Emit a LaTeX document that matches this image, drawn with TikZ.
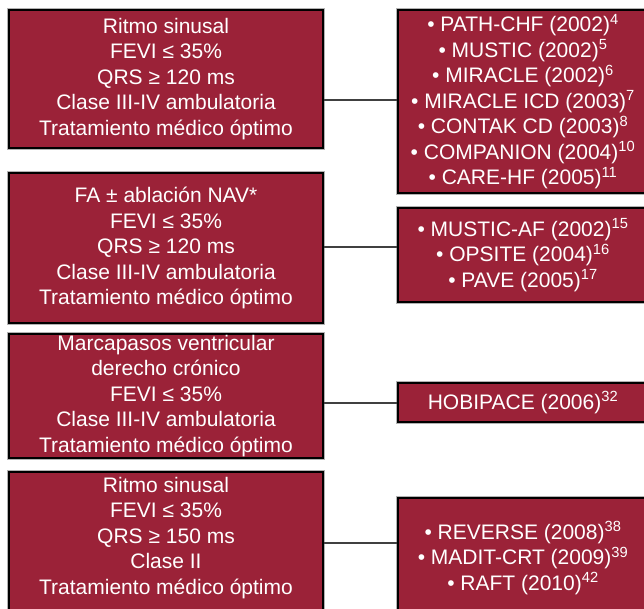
\documentclass[tikz,border=0pt]{standalone}
\usepackage{fontspec}
\setmainfont{Liberation Sans}
\definecolor{boxred}{RGB}{155,34,56}
\begin{document}
\begin{tikzpicture}[x=1pt,y=-1pt,
  box/.style={draw=black, line width=2pt, fill=boxred, text=white, align=center,
    inner sep=0pt, font=\fontsize{21}{25.5}\selectfont,
    preaction={draw=black!30, line width=3.4pt}},
  lbox/.style={box, minimum width=314pt},
  rbox/.style={box, minimum width=250pt},
  txt/.style={text=white, align=center, inner sep=0pt, font=\fontsize{21}{25.5}\selectfont},
  conn/.style={draw=black!75, line width=2pt}]
\useasboundingbox (0,0) rectangle (644,608);
\clip (0,0) rectangle (644,608);

% left boxes
\node[lbox, minimum height=138pt] (l1) at (166,79)
  {Ritmo sinusal\\FEVI ≤ 35\%\\QRS ≥ 120 ms\\Clase III-IV ambulatoria\\Tratamiento médico óptimo};
\node[lbox, minimum height=150pt] (l2) at (166,248)
  {FA ± ablación NAV*\\FEVI ≤ 35\%\\QRS ≥ 120 ms\\Clase III-IV ambulatoria\\Tratamiento médico óptimo};
\node[lbox, minimum height=124pt] (l3) at (166,396)
  {Marcapasos ventricular\\derecho crónico\\FEVI ≤ 35\%\\Clase III-IV ambulatoria\\Tratamiento médico óptimo};
\node[lbox, minimum height=170pt, anchor=north] (l4) at (166,471) {};
\node[txt] (l4t) at (166,538)
  {Ritmo sinusal\\FEVI ≤ 35\%\\QRS ≥ 150 ms\\Clase II\\Tratamiento médico óptimo};

% right boxes
\node[rbox, minimum height=183pt] (r1) at (523,101.5)
  {• PATH-CHF (2002)\textsuperscript{4}\\• MUSTIC (2002)\textsuperscript{5}\\• MIRACLE (2002)\textsuperscript{6}\\• MIRACLE ICD (2003)\textsuperscript{7}\\• CONTAK CD (2003)\textsuperscript{8}\\• COMPANION (2004)\textsuperscript{10}\\• CARE-HF (2005)\textsuperscript{11}};
\node[rbox, minimum height=94pt] (r2) at (523,255)
  {• MUSTIC-AF (2002)\textsuperscript{15}\\• OPSITE (2004)\textsuperscript{16}\\• PAVE (2005)\textsuperscript{17}};
\node[rbox, minimum height=39pt] (r3) at (523,402.5)
  {HOBIPACE (2006)\textsuperscript{32}};
\node[rbox, minimum height=120pt] (r4) at (523,558)
  {• REVERSE (2008)\textsuperscript{38}\\• MADIT-CRT (2009)\textsuperscript{39}\\• RAFT (2010)\textsuperscript{42}};

% connectors
\coordinate (c1) at (0,99.5);
\coordinate (c2) at (0,247);
\coordinate (c3) at (0,403);
\coordinate (c4) at (0,543);
\draw[conn] (l1.east |- c1) -- (r1.west |- c1);
\draw[conn] (l2.east |- c2) -- (r2.west |- c2);
\draw[conn] (l3.east |- c3) -- (r3.west |- c3);
\draw[conn] (l4.east |- c4) -- (r4.west |- c4);
\end{tikzpicture}
\end{document}
